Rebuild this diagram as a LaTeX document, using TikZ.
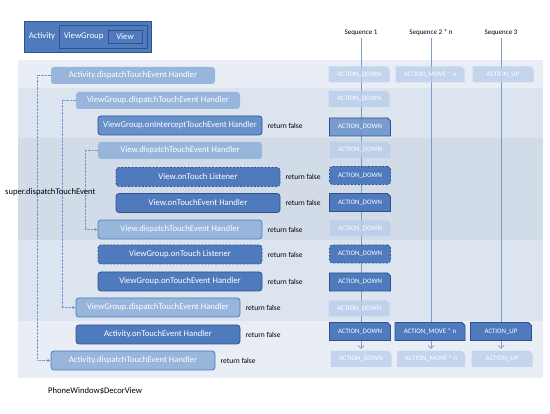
\documentclass[tikz,border=0pt]{standalone}
\usepackage{fontspec}
\setmainfont{Carlito}
\usepackage{tikz}
\usetikzlibrary{shapes.misc,arrows.meta,positioning,backgrounds}
\definecolor{dkblue}{HTML}{4F7BBE}
\definecolor{edgeblue}{HTML}{2F528F}
\definecolor{midblue}{HTML}{6890CA}
\definecolor{liteblue}{HTML}{98B5DC}
\definecolor{paleblue}{HTML}{BACEEA}
\definecolor{bandA}{HTML}{E9EEF6}
\definecolor{bandB}{HTML}{DCE4EF}
\definecolor{bandC}{HTML}{D2DCE9}
\definecolor{seqline}{HTML}{7C9CCC}
\tikzset{
  hnd/.style={rounded corners=3pt,minimum width=164pt,minimum height=19pt,inner sep=1pt,
              text=white,font=\fontsize{8.7}{10}\selectfont},
  litehnd/.style={hnd,fill=liteblue,minimum height=17pt},
  backhnd/.style={hnd,fill=liteblue,draw=dkblue,thick},
  darkhnd/.style={hnd,fill=dkblue,draw=edgeblue,thick},
  midhnd/.style={hnd,fill=midblue,draw=edgeblue,thick},
  lsnr/.style={darkhnd,dash pattern=on 2pt off 1.5pt},
  ret/.style={font=\fontsize{7.5}{9}\selectfont,inner sep=2pt},
  act/.style={chamfered rectangle,chamfered rectangle corners=north east,
              chamfered rectangle xsep=1.5pt,chamfered rectangle ysep=1.5pt,
              minimum width=61pt,minimum height=18pt,inner sep=1pt,text=white,
              font=\fontsize{6.8}{8}\selectfont},
  liteact/.style={act,fill=paleblue,fill opacity=0.8,text opacity=1,minimum height=16pt},
  darkact/.style={act,fill=dkblue,draw=edgeblue,thick},
  midact/.style={act,fill=midblue,fill opacity=0.85,text opacity=1,draw=edgeblue,thick},
  lsnract/.style={act,rectangle,rounded corners=3pt,fill=dkblue,draw=edgeblue,thick,
                  dash pattern=on 2pt off 1.5pt},
  seqhead/.style={font=\fontsize{7}{8}\selectfont,inner sep=2pt},
  legbox/.style={draw=edgeblue,fill=dkblue,thick},
  legtxt/.style={text=white,font=\fontsize{8.7}{10}\selectfont,inner sep=0pt},
  dotarr/.style={densely dotted,dkblue!80,-{Latex[length=3pt,width=3pt]}},
  seqarr/.style={seqline,semithick,-{Straight Barb[length=3pt,width=6pt]},shorten >=2pt},
  side/.style={font=\fontsize{8.6}{10}\selectfont,anchor=west,inner sep=0pt},
}

\begin{document}
\begin{tikzpicture}[x=1pt,y=-1pt]
  \useasboundingbox (0,0) rectangle (550,414);

  %% Bands
  \begin{scope}[on background layer]
    \fill[bandA] (18,60) rectangle (543,88);
    \fill[bandB] (18,88) rectangle (543,138);
    \fill[bandC] (18,138) rectangle (543,240);
    \fill[bandB] (18,240) rectangle (543,321);
    \fill[bandA] (18,321) rectangle (543,378);
  \end{scope}

  %% Legend
  \node[legbox,minimum width=127pt,minimum height=31pt] (lAct) at (87.5,36.5) {};
  \node[legbox,minimum width=88pt,minimum height=23pt] (lGrp) at (103,36.5) {};
  \node[legbox,legtxt,minimum width=34pt,minimum height=13pt] (lView) at (125,36.5) {View};
  \node[legtxt,anchor=west] at (lAct.west) [xshift=5pt] {Activity};
  \node[legtxt,anchor=west] at (lGrp.west) [xshift=5pt] {ViewGroup};

  %% Handlers, going down
  \node[litehnd] (aDisp)  at (133,75.5)  {Activity.dispatchTouchEvent Handler};
  \node[litehnd] (gDisp)  at (158,100.5) {ViewGroup.dispatchTouchEvent Handler};
  \node[midhnd]  (gInt)   at (180,125.5) {ViewGroup.onInterceptTouchEvent Handler};
  \node[litehnd] (vDisp)  at (180,150.5) {View.dispatchTouchEvent Handler};
  \node[lsnr]    (vTouch) at (198,177)   {View.onTouch Listener};
  \node[darkhnd] (vEvt)   at (198,203)   {View.onTouchEvent Handler};
  %% Handlers, coming back
  \node[backhnd] (vBack)  at (180,229.5) {View.dispatchTouchEvent Handler};
  \node[lsnr]    (gTouch) at (180,254.5) {ViewGroup.onTouch Listener};
  \node[darkhnd] (gEvt)   at (180,281.5) {ViewGroup.onTouchEvent Handler};
  \node[backhnd] (gBack)  at (158,307.5) {ViewGroup.dispatchTouchEvent Handler};
  \node[darkhnd] (aEvt)   at (158,334.5) {Activity.onTouchEvent Handler};
  \node[backhnd] (aBack)  at (133,360.5) {Activity.dispatchTouchEvent Handler};

  %% return false
  \node[ret,right=3pt of gInt]   {return false};
  \node[ret,right=3pt of vTouch] {return false};
  \node[ret,right=3pt of vEvt]   {return false};
  \node[ret,right=3pt of vBack]  {return false};
  \node[ret,right=3pt of gTouch] {return false};
  \node[ret,right=3pt of gEvt]   {return false};
  \node[ret,right=3pt of gBack]  {return false};
  \node[ret,right=3pt of aEvt]   {return false};
  \node[ret,right=3pt of aBack]  {return false};

  %% super calls
  \draw[dotarr] (aDisp.west) -- ++(-14,0) |- (aBack.west);
  \draw[dotarr] (gDisp.west) -- ++(-14,0) |- (gBack.west);
  \draw[dotarr] (vDisp.west) -- ++(-13,0) |- (vBack.west);
  \node[side] (superLbl) at (5,192) {super.dispatchTouchEvent};
  \node[side] (decor) at (48,391) {PhoneWindow\$DecorView};

  %% Sequences
  \node[seqhead] (seqA) at (361,33) {Sequence 1};
  \node[seqhead] (seqB) at (431,33) {Sequence 2 * n};
  \node[seqhead] (seqC) at (501,33) {Sequence 3};

  \node[liteact] (d1)  at (359,74.5)  {ACTION\_DOWN};
  \node[liteact,minimum width=69pt] (m1) at (430,74.5) {ACTION\_MOVE * n};
  \node[liteact] (u1)  at (503,74.5)  {ACTION\_UP};
  \node[liteact] (d2)  at (359,99)    {ACTION\_DOWN};
  \node[midact]  (d3)  at (360,127)   {ACTION\_DOWN};
  \node[liteact] (d4)  at (360,150)   {ACTION\_DOWN};
  \node[lsnract] (d5)  at (360,175.5) {ACTION\_DOWN};
  \node[darkact] (d6)  at (360,202.5) {ACTION\_DOWN};
  \node[liteact] (d7)  at (360,228.5) {ACTION\_DOWN};
  \node[lsnract] (d8)  at (360,254)   {ACTION\_DOWN};
  \node[darkact] (d9)  at (360,282)   {ACTION\_DOWN};
  \node[liteact] (d10) at (359,308.5) {ACTION\_DOWN};
  \node[darkact] (d11) at (360,331.5) {ACTION\_DOWN};
  \node[darkact,minimum width=70pt] (m11) at (430,331.5) {ACTION\_MOVE * n};
  \node[darkact] (u11) at (501,331.5) {ACTION\_UP};
  \node[liteact] (d12) at (361,359)   {ACTION\_DOWN};
  \node[liteact,minimum width=68pt] (m12) at (431,359) {ACTION\_MOVE * n};
  \node[liteact] (u12) at (502,359)   {ACTION\_UP};

  \begin{scope}[on background layer]
    \draw[seqarr] (seqA.south) -- (seqA.south |- d12.north);
    \draw[seqarr] (seqB.south) -- (seqB.south |- m12.north);
    \draw[seqarr] (seqC.south) -- (seqC.south |- u12.north);
  \end{scope}
\end{tikzpicture}
\end{document}
